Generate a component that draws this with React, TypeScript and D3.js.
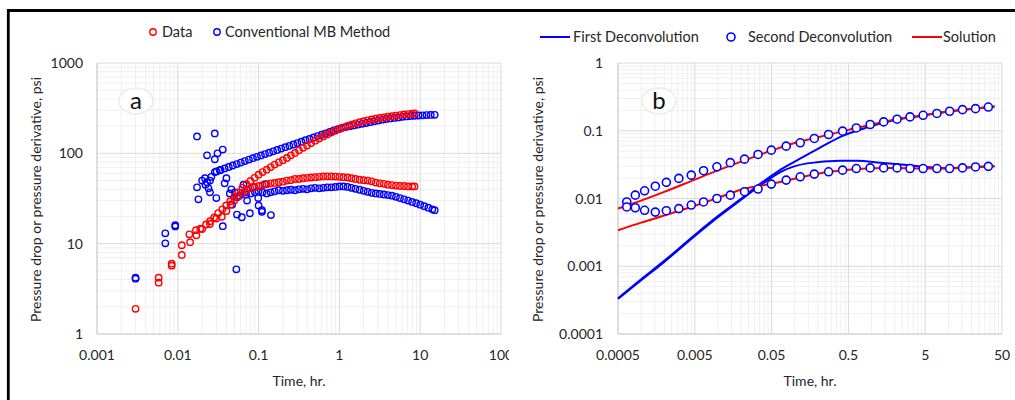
import React from 'react';
import * as d3 from 'd3';

const FONT = "Lato, 'Open Sans', sans-serif";
type P = [number, number];

// ---------- Panel a data ----------
const aXTicks = [0.001, 0.01, 0.1, 1, 10, 100];
const aXLabels = ['0.001', '0.01', '0.1', '1', '10', '100'];
const aYTicks = [1, 10, 100, 1000];
const aYLabels = ['1', '10', '100', '1000'];

const dataDrop: P[] = [
  [0.003, 1.9], [0.0058, 4.2], [0.0084, 6.0], [0.0112, 9.6], [0.0139, 12.7], [0.0168, 14.1],
  [0.019, 14.7], [0.0224, 16.3], [0.0251, 17.7], [0.0282, 19.5], [0.0316, 21.8], [0.0355, 24.0],
  [0.0398, 26.5], [0.0447, 29.5], [0.0501, 33.0], [0.0562, 37.0], [0.0631, 41.5], [0.0708, 45.5],
  [0.0794, 49.5], [0.0891, 53.5], [0.1, 58], [0.112, 62], [0.126, 66], [0.141, 70.5], [0.158, 75],
  [0.178, 79.5], [0.2, 84], [0.224, 89], [0.251, 95], [0.282, 101], [0.316, 108], [0.355, 115],
  [0.398, 122], [0.447, 130], [0.501, 138], [0.562, 146], [0.631, 154], [0.708, 162], [0.794, 170],
  [0.891, 178], [1.0, 186], [1.12, 194], [1.26, 201], [1.41, 208], [1.58, 215], [1.78, 221],
  [2.0, 227], [2.24, 232], [2.51, 237], [2.82, 242], [3.16, 246], [3.55, 250], [3.98, 254],
  [4.47, 258], [5.01, 262], [5.62, 265], [6.31, 269], [7.08, 272], [7.94, 275], [8.51, 277],
];

const dataDeriv: P[] = [
  [0.0058, 3.7], [0.0084, 5.7], [0.0112, 7.5], [0.0142, 10.4], [0.017, 12.4], [0.02, 14.5],
  [0.025, 16.5], [0.03, 19], [0.035, 19.8], [0.04, 23], [0.045, 27], [0.05, 30], [0.056, 33.5],
  [0.063, 36.5], [0.071, 39], [0.079, 41], [0.089, 42.5], [0.1, 43.5], [0.112, 44.5], [0.126, 45.5],
  [0.141, 46.5], [0.158, 47], [0.178, 48], [0.2, 48.5], [0.224, 50], [0.251, 50.5], [0.282, 52],
  [0.316, 52], [0.355, 53], [0.398, 53.5], [0.447, 54], [0.5, 54.5], [0.562, 55], [0.631, 55.5],
  [0.708, 55.7], [0.794, 55.5], [0.891, 55.3], [1.0, 55], [1.12, 54.5], [1.26, 54], [1.41, 53],
  [1.58, 52], [1.78, 51], [2.0, 50.5], [2.24, 50], [2.51, 49], [2.82, 47.5], [3.16, 46.5],
  [3.55, 46], [3.98, 45], [4.47, 44.5], [5.01, 44], [5.62, 43.5], [6.31, 43.5], [7.08, 43],
  [7.94, 43], [8.51, 43],
];

const mbDrop: P[] = [
  [0.0302, 63], [0.0339, 65.5], [0.038, 68], [0.0427, 70.6], [0.0479, 73.3], [0.0537, 76],
  [0.0603, 79], [0.0676, 82], [0.0759, 85.3], [0.0851, 88.3], [0.0955, 91.4], [0.107, 94.7],
  [0.12, 98.1], [0.135, 101.6], [0.151, 105.2], [0.17, 108.9], [0.191, 112.9], [0.214, 116.9],
  [0.24, 121], [0.269, 125.3], [0.302, 130], [0.339, 134.6], [0.38, 139.6], [0.427, 144.5],
  [0.479, 150], [0.537, 155.2], [0.603, 161], [0.676, 166.7], [0.759, 173], [0.851, 179],
  [0.955, 185.8], [1.07, 191], [1.2, 195.4], [1.35, 199.5], [1.51, 203.7], [1.7, 208],
  [1.91, 212.3], [2.14, 216.8], [2.4, 221.3], [2.69, 226], [3.02, 230.7], [3.39, 236], [3.8, 240],
  [4.27, 243.2], [4.79, 246.6], [5.37, 250], [6.03, 253.5], [6.76, 256.4], [7.59, 258.8],
  [8.51, 260.6], [9.55, 262.4], [10.7, 263.6], [12.0, 264.9], [13.5, 266], [15.1, 266.7],
];

const mbDeriv: P[] = [
  [0.07, 35], [0.08, 36], [0.09, 37], [0.1, 38], [0.112, 37], [0.126, 36], [0.141, 37],
  [0.158, 38], [0.178, 39], [0.2, 38.5], [0.224, 39], [0.251, 39.5], [0.282, 39], [0.316, 40],
  [0.355, 40.5], [0.398, 40], [0.447, 41], [0.5, 41.5], [0.562, 41], [0.631, 41.5], [0.708, 42],
  [0.794, 42], [0.891, 42.5], [1.0, 43], [1.12, 43], [1.26, 42.5], [1.41, 41.5], [1.58, 40.5],
  [1.78, 39.5], [2.0, 38.5], [2.24, 37.5], [2.51, 36.5], [2.82, 36], [3.16, 35.5], [3.55, 35],
  [3.98, 34.5], [4.47, 34], [5.01, 33], [5.62, 32], [6.31, 31], [7.08, 30], [7.94, 29],
  [8.91, 28], [10.0, 27], [11.2, 26], [12.6, 25], [14.1, 24], [15.1, 23.5],
];

const mbEarly: P[] = [
  [0.003, 4.1], [0.003, 4.2], [0.007, 13], [0.007, 10.1], [0.0093, 16], [0.0093, 15.5],
  [0.0173, 154], [0.0287, 166], [0.023, 95], [0.031, 100], [0.036, 110], [0.0287, 86],
  [0.0173, 42], [0.0217, 53], [0.023, 48], [0.025, 50], [0.024, 41], [0.025, 37], [0.018, 31],
  [0.03, 32], [0.038, 46.5], [0.04, 53], [0.044, 36], [0.054, 21], [0.062, 19.6], [0.078, 21.7],
  [0.142, 20.7], [0.036, 15.6], [0.053, 5.2], [0.1, 26.5], [0.11, 22.5], [0.051, 37],
  [0.068, 37], [0.085, 42], [0.12, 45.5], [0.099, 32], [0.11, 23.5], [0.054, 32.6], [0.072, 30],
  [0.0287, 62], [0.033, 65], [0.022, 45], [0.026, 55], [0.02, 50], [0.047, 27], [0.058, 34],
  [0.065, 45], [0.046, 40],
];

// ---------- Panel b data ----------
const bXTicks = [0.0005, 0.005, 0.05, 0.5, 5, 50];
const bXLabels = ['0.0005', '0.005', '0.05', '0.5', '5', '50'];
const bYTicks = [0.0001, 0.001, 0.01, 0.1, 1];
const bYLabels = ['0.0001', '0.001', '0.01', '0.1', '1'];

const solutionUpper: P[] = [
  [0.0005, 0.0071], [0.001, 0.0093], [0.002, 0.0125], [0.005, 0.019], [0.01, 0.026],
  [0.02, 0.035], [0.05, 0.051], [0.1, 0.066], [0.2, 0.08], [0.5, 0.103], [1, 0.124],
  [2, 0.146], [5, 0.17], [10, 0.193], [20, 0.21], [40, 0.228],
];
const solutionLower: P[] = [
  [0.0005, 0.0034], [0.001, 0.0044], [0.002, 0.0056], [0.005, 0.0078], [0.01, 0.0102],
  [0.02, 0.0135], [0.05, 0.0165], [0.1, 0.0196], [0.2, 0.0232], [0.5, 0.0265], [1, 0.028],
  [2, 0.0282], [5, 0.0277], [10, 0.0277], [20, 0.029], [40, 0.0298],
];
const firstDeconvUpper: P[] = [
  [0.0005, 0.000336], [0.001, 0.00064], [0.002, 0.0012], [0.005, 0.0029], [0.01, 0.0055],
  [0.02, 0.0099], [0.035, 0.0163], [0.06, 0.025], [0.1, 0.035], [0.2, 0.054], [0.4, 0.082],
  [0.9, 0.113], [2, 0.144], [5, 0.17], [10, 0.193], [20, 0.21], [40, 0.228],
];
const firstDeconvLower: P[] = [
  [0.0005, 0.00033], [0.001, 0.00062], [0.002, 0.00116], [0.005, 0.0028], [0.01, 0.0053],
  [0.02, 0.0096], [0.035, 0.0153], [0.065, 0.0245], [0.145, 0.033], [0.39, 0.036], [0.65, 0.036],
  [1.31, 0.0337], [2.9, 0.0311], [5.2, 0.0292], [10, 0.028], [20, 0.029], [40, 0.0298],
];
const secondDeconvUpper: P[] = [
  [0.00065, 0.0089], [0.00084, 0.0112], [0.00111, 0.013], [0.00153, 0.0152], [0.00213, 0.0173],
  [0.0031, 0.0198], [0.0045, 0.0221], [0.0065, 0.0257], [0.0097, 0.0294], [0.0145, 0.0338],
  [0.0222, 0.0381], [0.0333, 0.0447], [0.0496, 0.0517], [0.0775, 0.0593], [0.118, 0.0664],
  [0.18, 0.077], [0.276, 0.088], [0.42, 0.0987], [0.634, 0.11], [0.96, 0.1237], [1.44, 0.135],
  [2.15, 0.148], [3.17, 0.16], [4.7, 0.169], [7.1, 0.18], [10.4, 0.194], [15.3, 0.205],
  [22.6, 0.212], [33.2, 0.224],
];
const secondDeconvLower: P[] = [
  [0.00065, 0.0075], [0.00084, 0.0073], [0.00111, 0.0067], [0.00153, 0.0063], [0.00213, 0.0066],
  [0.0031, 0.0071], [0.0045, 0.008], [0.0065, 0.0089], [0.0097, 0.01], [0.0145, 0.0112],
  [0.0222, 0.0126], [0.0333, 0.0138], [0.0496, 0.0163], [0.0775, 0.0187], [0.118, 0.0209],
  [0.18, 0.0229], [0.276, 0.0248], [0.42, 0.0262], [0.634, 0.0277], [0.96, 0.0283],
  [1.44, 0.0283], [2.15, 0.0283], [3.17, 0.0277], [4.7, 0.0277], [7.1, 0.0277], [10.4, 0.0277],
  [15.3, 0.0283], [22.6, 0.0292], [33.2, 0.0298],
];

const RED = '#ff0000';
const BLUE = '#0000ff';
const MAJOR = '#d9d9d9';
const MINOR = '#efefef';
const TEXT = '#262626';

function minors(majors: number[]): number[] {
  const out: number[] = [];
  for (let i = 0; i < majors.length - 1; i++) {
    for (let k = 2; k <= 9; k++) out.push(majors[i] * k);
  }
  return out;
}

type PanelProps = {
  x: d3.ScaleLogarithmic<number, number>;
  y: d3.ScaleLogarithmic<number, number>;
  xTicks: number[]; xLabels: string[];
  yTicks: number[]; yLabels: string[];
  yLabelX: number; tickLabelRight: number; clipId: string; clipRight: number;
};

function Axes({ x, y, xTicks, xLabels, yTicks, yLabels, yLabelX, tickLabelRight, clipId, clipRight }: PanelProps) {
  const [x0, x1] = x.range();
  const [y0, y1] = y.range();
  const xm = minors(xTicks);
  const ym = minors(yTicks);
  return (
    <g>
      <defs>
        <clipPath id={clipId}><rect x={0} y={0} width={clipRight} height={400} /></clipPath>
      </defs>
      {xm.map((v, i) => (
        <line key={'xm' + i} x1={x(v)} x2={x(v)} y1={y1} y2={y0} stroke={MINOR} strokeWidth={1} />
      ))}
      {ym.map((v, i) => (
        <line key={'ym' + i} x1={x0} x2={x1} y1={y(v)} y2={y(v)} stroke={MINOR} strokeWidth={1} />
      ))}
      {xTicks.map((v, i) => (
        <line key={'xM' + i} x1={x(v)} x2={x(v)} y1={y1} y2={y0} stroke={MAJOR} strokeWidth={1} />
      ))}
      {yTicks.map((v, i) => (
        <line key={'yM' + i} x1={x0} x2={x1} y1={y(v)} y2={y(v)} stroke={MAJOR} strokeWidth={1} />
      ))}
      <line x1={x0} x2={x0} y1={y1} y2={y0} stroke="#cfcfcf" />
      <line x1={x0} x2={x1} y1={y0} y2={y0} stroke="#cfcfcf" />
      <g clipPath={`url(#${clipId})`}>
        {xTicks.map((v, i) => (
          <text key={'xl' + i} x={x(v)} y={360} textAnchor="middle" fontSize={14} fill={TEXT} fontFamily={FONT}>{xLabels[i]}</text>
        ))}
      </g>
      {yTicks.map((v, i) => (
        <text key={'yl' + i} x={tickLabelRight} y={y(v) + 5} textAnchor="end" fontSize={14} fill={TEXT} fontFamily={FONT}>{yLabels[i]}</text>
      ))}
      <text x={(x0 + x1) / 2} y={386} textAnchor="middle" fontSize={14} fill={TEXT} fontFamily={FONT}>Time, hr.</text>
      <text transform={`translate(${yLabelX},${(y0 + y1) / 2 + 1}) rotate(-90)`} textAnchor="middle" fontSize={14} fill={TEXT} fontFamily={FONT}>
        Pressure drop or pressure derivative, psi
      </text>
    </g>
  );
}

export default function App() {
  const ax = d3.scaleLog().domain([0.001, 100]).range([97, 501]);
  const ay = d3.scaleLog().domain([1, 1000]).range([334, 63]);
  const bx = d3.scaleLog().domain([0.0005, 50]).range([618, 1002]);
  const by = d3.scaleLog().domain([0.0001, 1]).range([334, 63]);

  const bLine = d3.line<P>().x(d => bx(d[0])).y(d => by(d[1])).curve(d3.curveMonotoneX);

  const aSeries: { pts: P[]; color: string }[] = [
    { pts: mbEarly, color: BLUE },
    { pts: mbDrop, color: BLUE },
    { pts: mbDeriv, color: BLUE },
    { pts: dataDrop, color: RED },
    { pts: dataDeriv, color: RED },
  ];

  return (
    <svg width={1015} height={400} style={{ position: 'absolute', left: 0, top: 0, background: '#fff' }}>
      <rect x={0} y={0} width={1015} height={400} fill="#fff" />
      {/* Panel a */}
      <Axes x={ax} y={ay} xTicks={aXTicks} xLabels={aXLabels} yTicks={aYTicks} yLabels={aYLabels}
        yLabelX={41} tickLabelRight={83} clipId="clipA" clipRight={509} />
      <ellipse cx={136} cy={101} rx={17} ry={13} fill="#fff" stroke="#ececec" strokeWidth={1.5} />
      <text x={136} y={109} textAnchor="middle" fontSize={24} fill="#111" fontFamily={FONT}>a</text>
      {aSeries.map((s, si) => (
        <g key={'as' + si}>
          {s.pts.map((p, i) => (
            <circle key={i} cx={ax(p[0])} cy={ay(p[1])} r={3.2} fill="none" stroke={s.color} strokeWidth={1.4} />
          ))}
        </g>
      ))}
      {/* legend a */}
      <circle cx={153} cy={32} r={3.2} fill="none" stroke={RED} strokeWidth={1.4} />
      <text x={162} y={37} fontSize={14.5} fill={TEXT} fontFamily={FONT}>Data</text>
      <circle cx={217} cy={32} r={3.2} fill="none" stroke={BLUE} strokeWidth={1.4} />
      <text x={225} y={37} fontSize={14.5} fill={TEXT} fontFamily={FONT}>Conventional MB Method</text>

      {/* Panel b */}
      <Axes x={bx} y={by} xTicks={bXTicks} xLabels={bXLabels} yTicks={bYTicks} yLabels={bYLabels}
        yLabelX={543} tickLabelRight={603} clipId="clipB" clipRight={1015} />
      <ellipse cx={659} cy={101} rx={17} ry={13} fill="#fff" stroke="#ececec" strokeWidth={1.5} />
      <text x={659} y={109} textAnchor="middle" fontSize={24} fill="#111" fontFamily={FONT}>b</text>
      <path d={bLine(firstDeconvUpper) || ''} fill="none" stroke={BLUE} strokeWidth={2} />
      <path d={bLine(firstDeconvLower) || ''} fill="none" stroke={BLUE} strokeWidth={2} />
      <path d={bLine(solutionUpper) || ''} fill="none" stroke={RED} strokeWidth={2} />
      <path d={bLine(solutionLower) || ''} fill="none" stroke={RED} strokeWidth={2} />
      {[secondDeconvUpper, secondDeconvLower].map((s, si) => (
        <g key={'bs' + si}>
          {s.map((p, i) => (
            <circle key={i} cx={bx(p[0])} cy={by(p[1])} r={4} fill="#fff" stroke={BLUE} strokeWidth={1.6} />
          ))}
        </g>
      ))}
      {/* legend b */}
      <line x1={540} x2={570} y1={37} y2={37} stroke={BLUE} strokeWidth={2} />
      <text x={573} y={42} fontSize={14.5} fill={TEXT} fontFamily={FONT}>First Deconvolution</text>
      <circle cx={731} cy={37} r={4} fill="#fff" stroke={BLUE} strokeWidth={1.6} />
      <text x={748} y={42} fontSize={14.5} fill={TEXT} fontFamily={FONT}>Second Deconvolution</text>
      <line x1={912} x2={942} y1={37} y2={37} stroke={RED} strokeWidth={2} />
      <text x={943} y={42} fontSize={14.5} fill={TEXT} fontFamily={FONT}>Solution</text>

      {/* frame */}
      <path d="M 8.3 400 L 8.3 10.5 L 1015 10.5" fill="none" stroke="#000" strokeWidth={2.8} />
    </svg>
  );
}
